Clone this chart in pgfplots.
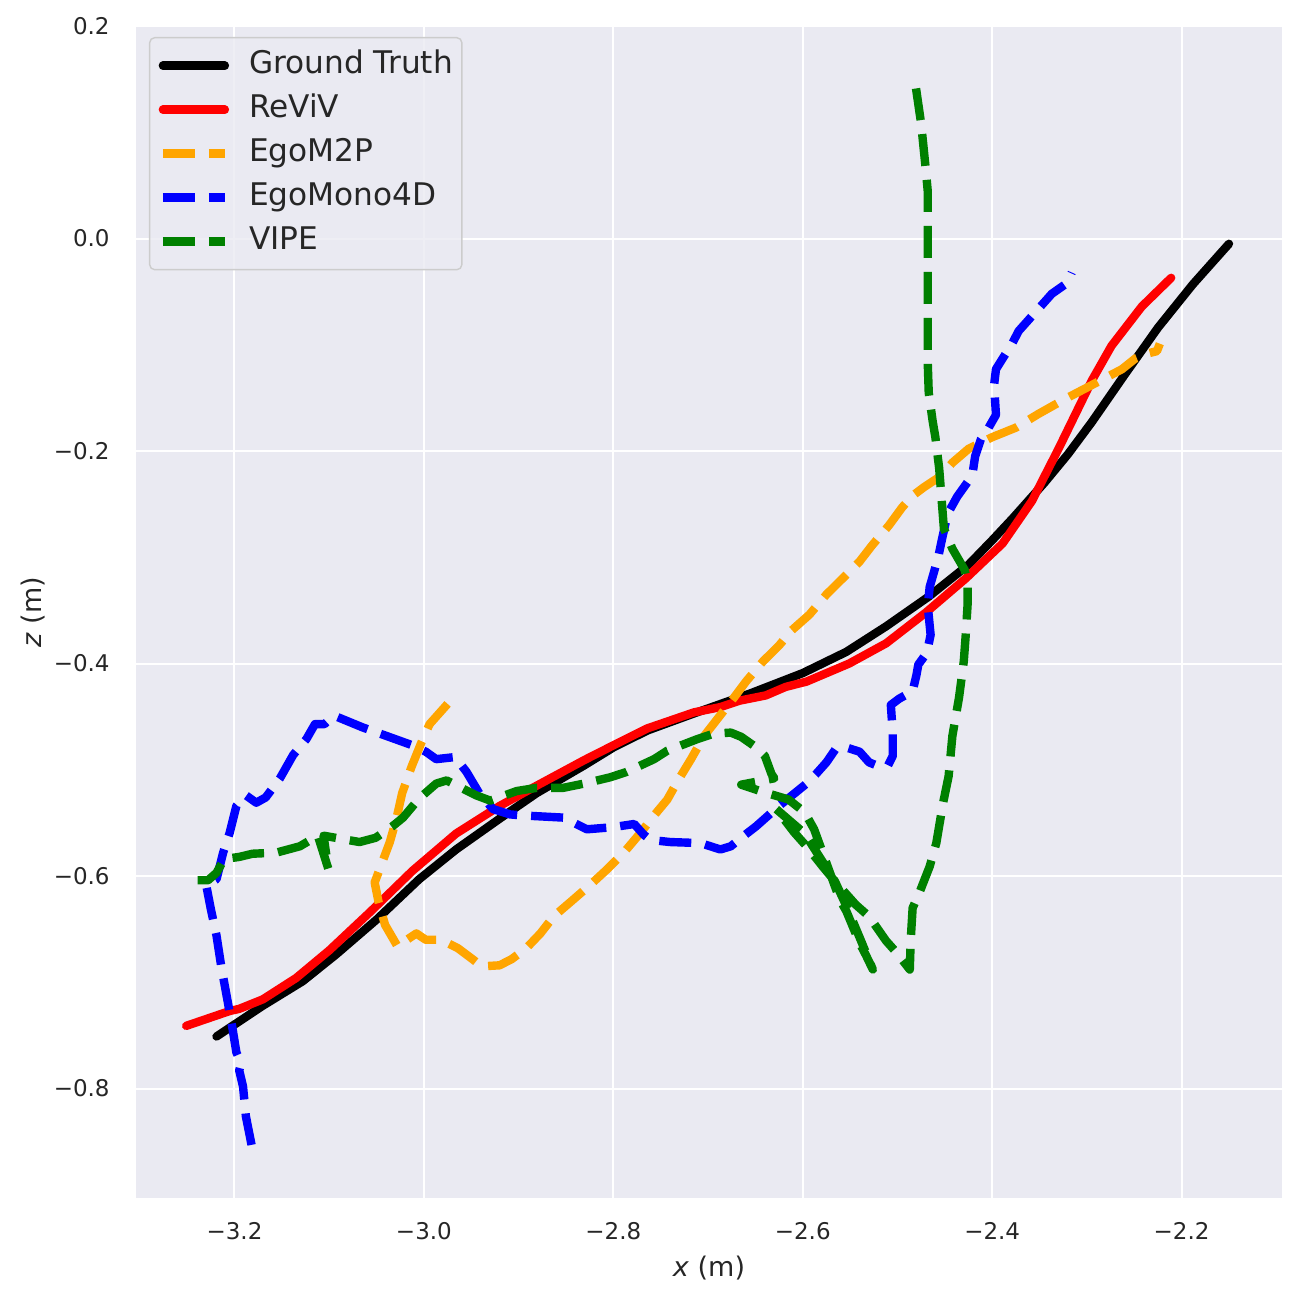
\documentclass[border=0pt]{standalone}
\usepackage{fontspec}
\setmainfont{DejaVu Sans}
\usepackage{pgfplots}
\pgfplotsset{compat=1.18}
\definecolor{bg}{RGB}{234,234,242}
\definecolor{txt}{RGB}{38,38,38}
\definecolor{mplorange}{RGB}{255,165,0}
\definecolor{mplgreen}{RGB}{0,128,0}
\definecolor{legedge}{RGB}{204,204,204}

\begin{document}
\begin{tikzpicture}
\path[use as bounding box] (-68pt,-50pt) rectangle (581pt,599pt);
\begin{axis}[
  at={(0pt,0pt)}, anchor=south west,
  scale only axis, width=573pt, height=586pt,
  xmin=-3.304, xmax=-2.094, ymin=-0.903, ymax=0.200,
  axis background/.style={fill=bg},
  axis line style={draw=none},
  major tick length=0pt,
  grid=major, major grid style={white, line width=1pt},
  xtick={-3.2,-3.0,-2.8,-2.6,-2.4,-2.2},
  xticklabels={−3.2,−3.0,−2.8,−2.6,−2.4,−2.2},
  ytick={-0.8,-0.6,-0.4,-0.2,0.0,0.2},
  yticklabels={−0.8,−0.6,−0.4,−0.2,0.0,0.2},
  tick label style={font=\fontsize{11.5}{14}\selectfont, text=txt},
  xticklabel style={inner sep=0pt, yshift=-12pt},
  yticklabel style={inner sep=0pt, xshift=-13pt},
  xlabel={\textit{x} (m)}, ylabel={\textit{z} (m)},
  label style={font=\fontsize{13.5}{16}\selectfont, text=txt},
  xlabel style={at={(axis description cs:0.5,-0.0597)}, anchor=center},
  ylabel style={at={(axis description cs:-0.0899,0.5)}, anchor=center},
  legend cell align=left,
  legend image code/.code={\draw[#1] (0pt,0pt) -- (31pt,0pt);},
  legend style={at={(0.01134,0.99061)}, anchor=north west,
    draw=legedge, line width=0.7pt, fill=bg, fill opacity=0.8, text opacity=1,
    rounded corners=2.5pt, font=\fontsize{15.6}{18}\selectfont, text=txt,
    inner xsep=4.5pt, inner ysep=6.75pt, row sep=7.5pt, column sep=10pt,
    nodes={inner sep=0pt, text height=11pt, text depth=3.5pt}},
]
% Ground Truth
\addplot[black, line width=4.2pt, line cap=round, line join=round] coordinates {
  (-3.219,-0.751) (-3.170,-0.722) (-3.128,-0.699) (-3.093,-0.674) (-3.050,-0.641)
  (-3.005,-0.603) (-2.966,-0.575) (-2.920,-0.546) (-2.881,-0.522) (-2.831,-0.496)
  (-2.800,-0.479) (-2.764,-0.463) (-2.715,-0.447) (-2.655,-0.428) (-2.600,-0.409)
  (-2.554,-0.389) (-2.512,-0.365) (-2.467,-0.337) (-2.425,-0.307) (-2.400,-0.284)
  (-2.378,-0.263) (-2.358,-0.243) (-2.345,-0.230) (-2.320,-0.203) (-2.295,-0.173)
  (-2.260,-0.128) (-2.225,-0.084) (-2.188,-0.043) (-2.150,-0.005)
};
\addlegendentry{Ground Truth}
% ReViV
\addplot[red, line width=4.2pt, line cap=round, line join=round] coordinates {
  (-3.251,-0.741) (-3.205,-0.727) (-3.195,-0.725) (-3.170,-0.716) (-3.135,-0.696)
  (-3.100,-0.670) (-3.057,-0.634) (-3.012,-0.595) (-2.966,-0.560) (-2.920,-0.534)
  (-2.881,-0.515) (-2.831,-0.491) (-2.800,-0.477) (-2.764,-0.461) (-2.715,-0.446)
  (-2.687,-0.441) (-2.667,-0.435) (-2.639,-0.430) (-2.618,-0.422) (-2.596,-0.417)
  (-2.551,-0.400) (-2.512,-0.381) (-2.470,-0.352) (-2.428,-0.320) (-2.389,-0.287)
  (-2.358,-0.247) (-2.330,-0.198) (-2.295,-0.134) (-2.274,-0.101) (-2.242,-0.064)
  (-2.211,-0.037)
};
\addlegendentry{ReViV}
% EgoM2P
\addplot[mplorange, line width=4.2pt, line cap=butt, line join=round, dash pattern=on 16pt off 7pt] coordinates {
  (-2.975,-0.438) (-2.994,-0.457) (-3.003,-0.475) (-3.013,-0.497) (-3.023,-0.522)
  (-3.029,-0.546) (-3.036,-0.568) (-3.044,-0.587) (-3.052,-0.606) (-3.048,-0.624)
  (-3.041,-0.646) (-3.028,-0.666) (-3.008,-0.654) (-2.998,-0.660) (-2.982,-0.660)
  (-2.964,-0.668) (-2.949,-0.678) (-2.939,-0.685) (-2.920,-0.684) (-2.907,-0.678)
  (-2.892,-0.668) (-2.877,-0.654) (-2.863,-0.638) (-2.846,-0.625) (-2.824,-0.608)
  (-2.807,-0.594) (-2.789,-0.578) (-2.771,-0.559) (-2.757,-0.543) (-2.743,-0.528)
  (-2.733,-0.512) (-2.718,-0.490) (-2.704,-0.468) (-2.690,-0.452) (-2.676,-0.436)
  (-2.660,-0.417) (-2.642,-0.398) (-2.625,-0.383) (-2.612,-0.369) (-2.593,-0.354)
  (-2.575,-0.335) (-2.558,-0.320) (-2.540,-0.304) (-2.527,-0.289) (-2.509,-0.270)
  (-2.495,-0.253) (-2.484,-0.242) (-2.472,-0.234) (-2.455,-0.224) (-2.442,-0.211)
  (-2.425,-0.198) (-2.400,-0.187) (-2.375,-0.178) (-2.351,-0.165) (-2.323,-0.151)
  (-2.295,-0.138) (-2.263,-0.123) (-2.249,-0.113) (-2.235,-0.108) (-2.226,-0.106)
  (-2.223,-0.099)
};
\addlegendentry{EgoM2P}
% EgoMono4D
\addplot[blue, line width=4.2pt, line cap=butt, line join=round, dash pattern=on 16pt off 7pt] coordinates {
  (-3.182,-0.853) (-3.188,-0.826) (-3.191,-0.798) (-3.195,-0.783) (-3.193,-0.776)
  (-3.198,-0.766) (-3.202,-0.744) (-3.207,-0.719) (-3.214,-0.685) (-3.219,-0.656)
  (-3.225,-0.631) (-3.230,-0.608) (-3.219,-0.603) (-3.212,-0.578) (-3.205,-0.559)
  (-3.198,-0.534) (-3.188,-0.524) (-3.177,-0.531) (-3.167,-0.526) (-3.152,-0.508)
  (-3.138,-0.486) (-3.124,-0.471) (-3.115,-0.457) (-3.105,-0.457) (-3.095,-0.449)
  (-3.065,-0.460) (-3.012,-0.477) (-2.998,-0.483) (-2.987,-0.490) (-2.967,-0.488)
  (-2.955,-0.502) (-2.941,-0.523) (-2.927,-0.537) (-2.909,-0.542) (-2.895,-0.543)
  (-2.853,-0.545) (-2.846,-0.548) (-2.828,-0.556) (-2.800,-0.554) (-2.778,-0.551)
  (-2.768,-0.561) (-2.761,-0.566) (-2.740,-0.568) (-2.708,-0.569) (-2.687,-0.575)
  (-2.676,-0.572) (-2.662,-0.562) (-2.649,-0.553) (-2.625,-0.534) (-2.596,-0.513)
  (-2.586,-0.504) (-2.575,-0.493) (-2.565,-0.480) (-2.554,-0.479) (-2.540,-0.483)
  (-2.530,-0.493) (-2.519,-0.497) (-2.510,-0.496) (-2.505,-0.487) (-2.505,-0.465)
  (-2.507,-0.439) (-2.498,-0.433) (-2.484,-0.426) (-2.480,-0.411) (-2.478,-0.401)
  (-2.469,-0.390) (-2.465,-0.373) (-2.468,-0.346) (-2.466,-0.328) (-2.457,-0.300)
  (-2.453,-0.283) (-2.447,-0.259) (-2.437,-0.243) (-2.421,-0.223) (-2.418,-0.205)
  (-2.412,-0.189) (-2.405,-0.180) (-2.396,-0.166) (-2.398,-0.138) (-2.396,-0.123)
  (-2.389,-0.113) (-2.379,-0.099) (-2.372,-0.087) (-2.351,-0.066) (-2.337,-0.052)
  (-2.321,-0.042) (-2.316,-0.032)
};
\addlegendentry{EgoMono4D}
% VIPE
\addplot[mplgreen, line width=4.2pt, line cap=butt, line join=round, dash pattern=on 16pt off 7pt] coordinates {
  (-3.239,-0.604) (-3.228,-0.604) (-3.219,-0.597) (-3.211,-0.584) (-3.195,-0.582)
  (-3.181,-0.579) (-3.156,-0.578) (-3.131,-0.572) (-3.112,-0.562) (-3.101,-0.593)
  (-3.106,-0.562) (-3.068,-0.568) (-3.051,-0.564) (-3.033,-0.553) (-3.022,-0.545)
  (-3.005,-0.527) (-2.987,-0.513) (-2.976,-0.510) (-2.945,-0.524) (-2.930,-0.529)
  (-2.902,-0.520) (-2.881,-0.517) (-2.853,-0.517) (-2.831,-0.513) (-2.803,-0.507)
  (-2.786,-0.502) (-2.757,-0.490) (-2.743,-0.482) (-2.711,-0.471) (-2.694,-0.466)
  (-2.676,-0.465) (-2.665,-0.469) (-2.649,-0.479) (-2.640,-0.487) (-2.633,-0.504)
  (-2.630,-0.508) (-2.665,-0.514) (-2.645,-0.520) (-2.615,-0.528) (-2.598,-0.540)
  (-2.588,-0.556) (-2.579,-0.578) (-2.570,-0.600) (-2.561,-0.622) (-2.554,-0.633)
  (-2.540,-0.663) (-2.533,-0.675) (-2.526,-0.688) (-2.538,-0.662) (-2.553,-0.630)
  (-2.566,-0.605) (-2.578,-0.588) (-2.598,-0.560) (-2.628,-0.537) (-2.609,-0.559)
  (-2.596,-0.572) (-2.579,-0.591) (-2.565,-0.606) (-2.544,-0.627) (-2.530,-0.638)
  (-2.512,-0.661) (-2.501,-0.672) (-2.487,-0.688) (-2.486,-0.660) (-2.484,-0.630)
  (-2.477,-0.616) (-2.466,-0.591) (-2.459,-0.569) (-2.452,-0.532) (-2.446,-0.506)
  (-2.442,-0.468) (-2.435,-0.432) (-2.430,-0.398) (-2.428,-0.374) (-2.426,-0.345)
  (-2.426,-0.325) (-2.429,-0.312) (-2.442,-0.292) (-2.451,-0.273) (-2.453,-0.250)
  (-2.456,-0.216) (-2.460,-0.187) (-2.463,-0.171) (-2.467,-0.145) (-2.468,-0.118)
  (-2.468,-0.050) (-2.468,0.017) (-2.468,0.044) (-2.470,0.064) (-2.475,0.108)
  (-2.482,0.151)
};
\addlegendentry{VIPE}
\end{axis}
\end{tikzpicture}
\end{document}
